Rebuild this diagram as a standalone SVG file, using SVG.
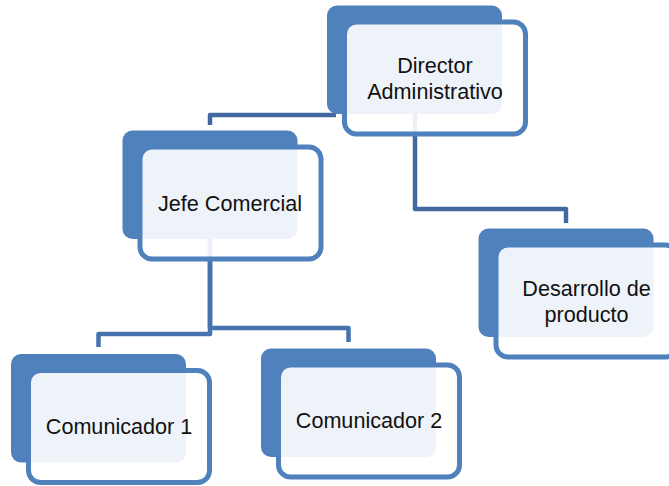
<svg xmlns="http://www.w3.org/2000/svg" width="669" height="486" viewBox="0 0 669 486">
<style>
.back{fill:#4F81BD;}
.front{fill:#FFFFFF;fill-opacity:0.9;stroke:#4F81BD;stroke-width:5;}
.conn{fill:none;stroke-width:4.5;stroke-linejoin:round;}
.c1{stroke:#41699F;}
.c2{stroke:#4673AD;}
text{font-family:"Liberation Sans",Arial,sans-serif;font-size:21.6px;fill:#111;text-anchor:middle;}
</style>
<rect width="669" height="486" fill="#FFFFFF"/>
<g id="connectors">
<path class="conn c1" d="M336,115 H210 V125"/>
<path class="conn c1" d="M415,112 V209 H566 V223"/>
<path class="conn c2" d="M210,238 V334 H98.5 V347"/>
<path class="conn c2" d="M210,238 V328 H348.5 V342"/>
</g>
<g id="director">
<rect class="back" x="327" y="5.5" width="175" height="108.5" rx="10"/>
<rect class="front" x="344.5" y="22" width="181" height="112" rx="12"/>
<text x="435" y="73">Director</text>
<text x="435" y="99">Administrativo</text>
</g>
<g id="jefe">
<rect class="back" x="122.5" y="130.5" width="175" height="108.5" rx="10"/>
<rect class="front" x="140" y="147" width="181" height="112" rx="12"/>
<text x="230" y="211">Jefe Comercial</text>
</g>
<g id="desarrollo">
<rect class="back" x="478.5" y="228.5" width="175" height="108.5" rx="10"/>
<rect class="front" x="496" y="245" width="181" height="112" rx="12"/>
<text x="586.5" y="296">Desarrollo de</text>
<text x="586.5" y="322">producto</text>
</g>
<g id="comunicador1">
<rect class="back" x="11" y="354" width="175" height="108.5" rx="10"/>
<rect class="front" x="28.5" y="370.5" width="181" height="112" rx="12"/>
<text x="119" y="434">Comunicador 1</text>
</g>
<g id="comunicador2">
<rect class="back" x="261" y="348.5" width="175" height="108.5" rx="10"/>
<rect class="front" x="278.5" y="365" width="181" height="112" rx="12"/>
<text x="369" y="428">Comunicador 2</text>
</g>
</svg>
